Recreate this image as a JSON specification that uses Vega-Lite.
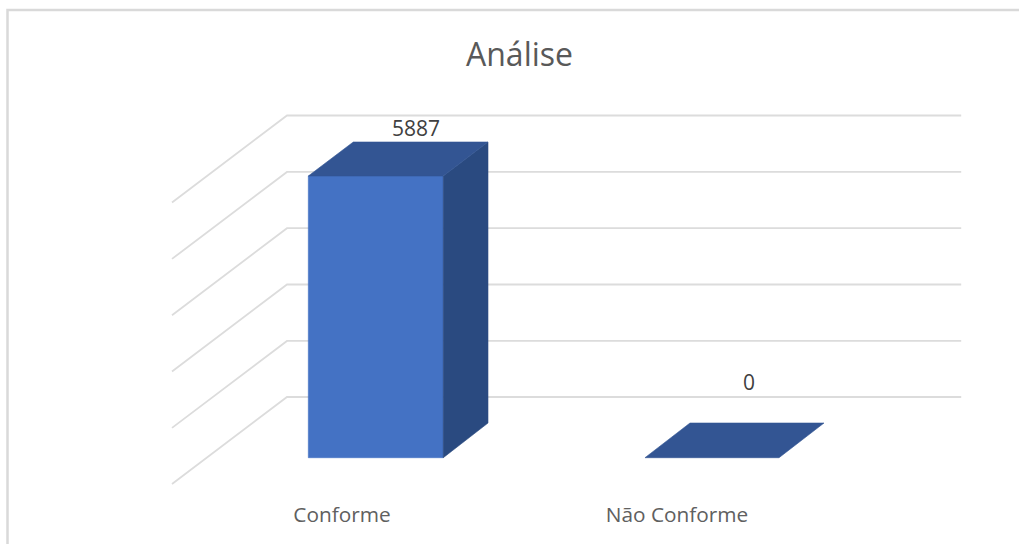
{
"$schema":"https://vega.github.io/schema/vega-lite/v6.json",
"width":1019,"height":544,"padding":0,"autosize":{"type":"none"},
"background":"#ffffff",
"view":{"stroke":null},
"title":{"text":"Análise","font":"Open Sans","fontSize":32,"fontWeight":"normal","color":"#595959","anchor":"middle","frame":"group","dx":10,"offset":-98,"baseline":"alphabetic"},
"datasets":{
"frame":[{"x":-0.0942,"y":-1803},{"x":-0.0942,"y":9357},{"x":2.9126,"y":9357}],
"grid":[
{"line":1,"x":0.3948,"y":-550},{"line":1,"x":0.7366,"y":1269},{"line":1,"x":2.7408,"y":1269},
{"line":2,"x":0.3948,"y":623},{"line":2,"x":0.7366,"y":2441},{"line":2,"x":2.7408,"y":2441},
{"line":3,"x":0.3948,"y":1802},{"line":3,"x":0.7366,"y":3620},{"line":3,"x":2.7408,"y":3620},
{"line":4,"x":0.3948,"y":2978},{"line":4,"x":0.7366,"y":4797},{"line":4,"x":2.7408,"y":4797},
{"line":5,"x":0.3948,"y":4155},{"line":5,"x":0.7366,"y":5973},{"line":5,"x":2.7408,"y":5973},
{"line":6,"x":0.3948,"y":5334},{"line":6,"x":0.7366,"y":7152},{"line":6,"x":2.7408,"y":7152}],
"faces":[
{"bar":"Conforme","face":"front","x":0.8,"y":5887,"y2":0},
{"bar":"Conforme","face":"front","x":1.2012,"y":5887,"y2":0},
{"bar":"Conforme","face":"side","x":1.2012,"y":5887,"y2":0},
{"bar":"Conforme","face":"side","x":1.3341,"y":6598,"y2":725},
{"bar":"Conforme","face":"top","x":0.8,"y":5887,"y2":5887},
{"bar":"Conforme","face":"top","x":0.9337,"y":6598,"y2":5887},
{"bar":"Conforme","face":"top","x":1.2012,"y":6598,"y2":5887},
{"bar":"Conforme","face":"top","x":1.3341,"y":6598,"y2":6598},
{"bar":"Não Conforme","face":"top","x":1.8008,"y":0,"y2":0},
{"bar":"Não Conforme","face":"top","x":1.9346,"y":725,"y2":0},
{"bar":"Não Conforme","face":"top","x":2.1992,"y":725,"y2":0},
{"bar":"Não Conforme","face":"top","x":2.3329,"y":725,"y2":725}],
"values":[{"label":"5887","x":1.12,"y":6855},{"label":"0","x":2.11,"y":1547}],
"categories":[{"label":"Conforme","x":0.9001,"y":-1225},{"label":"Não Conforme","x":1.8959,"y":-1225}]
},
"layer":[
{"data":{"name":"frame"},"mark":{"type":"line","color":"#d9d9d9","strokeWidth":2.5},
"encoding":{"x":{"field":"x","type":"quantitative","scale":{"domain":[-0.1165,2.9126],"nice":false,"zero":false},"axis":null},
"y":{"field":"y","type":"quantitative","scale":{"domain":[-1803.4,9565.9],"nice":false,"zero":false},"axis":null}}},
{"data":{"name":"grid"},"mark":{"type":"line","color":"#dcdcdc","strokeWidth":1.8},
"encoding":{"x":{"field":"x","type":"quantitative"},"y":{"field":"y","type":"quantitative"},"detail":{"field":"line"}}},
{"data":{"name":"faces"},"mark":{"type":"area","opacity":1,"strokeWidth":0.6},
"encoding":{"x":{"field":"x","type":"quantitative"},"y":{"field":"y","type":"quantitative"},"y2":{"field":"y2"},
"detail":{"field":"bar"},
"color":{"field":"face","type":"nominal","scale":{"domain":["front","side","top"],"range":["#4472c4","#2a4a80","#335593"]},"legend":null},
"stroke":{"field":"face","type":"nominal","scale":{"domain":["front","side","top"],"range":["#4472c4","#2a4a80","#335593"]},"legend":null}}},
{"data":{"name":"values"},"mark":{"type":"text","font":"Open Sans","fontSize":21,"color":"#404040","align":"center","baseline":"middle"},
"encoding":{"x":{"field":"x","type":"quantitative"},"y":{"field":"y","type":"quantitative"},"text":{"field":"label"}}},
{"data":{"name":"categories"},"mark":{"type":"text","font":"Open Sans","fontSize":20.8,"color":"#606060","align":"center","baseline":"middle"},
"encoding":{"x":{"field":"x","type":"quantitative"},"y":{"field":"y","type":"quantitative"},"text":{"field":"label"}}}
]
}
